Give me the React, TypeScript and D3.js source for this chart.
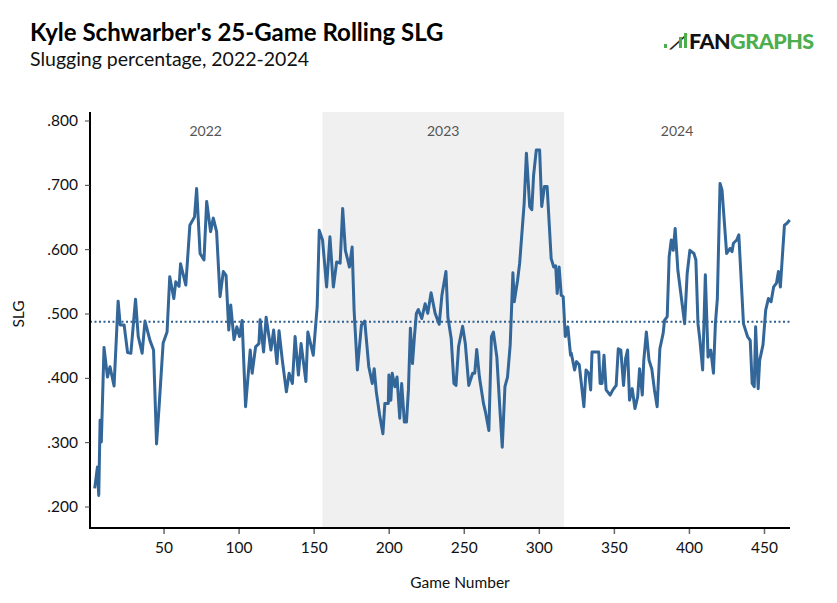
import * as React from "react";
import * as d3 from "d3";

// key points: game number / rolling SLG
const games = [
  3.8, 5.6, 6.5, 7.4, 8.2, 10, 12.3, 14, 16.7, 19.4, 20.8, 23.4, 25.7, 27.9, 31, 32.8, 35.4, 37.3, 40.6, 43,
  45, 46.7, 49.4, 52, 53.8, 56.5, 57.8, 60, 61, 64.5, 67.2, 70.3, 71.7, 74, 76.6, 78.4, 81, 82.8, 85, 87.3,
  89.5, 91.3, 93.1, 94.4, 96.6, 98.5, 100.3, 102, 104.3, 107.4, 108.7, 111, 113.2, 114, 116.3, 118, 121.2, 123, 125.2, 126.6,
  128.8, 131.5, 133.3, 135.5, 137.3, 139.5, 141.3, 144.5, 145.8, 147.6, 149.4, 152, 153.4, 155.6, 158.3, 160.5, 162.8, 165, 167.3, 169,
  170.8, 173.5, 175.3, 176.6, 178.8, 181.5, 183.7, 186.4, 188.7, 190, 191.4, 193.6, 195.8, 197.1, 199.4, 199.8, 201.1, 202, 203.8, 205.2,
  207, 208.3, 210.1, 211.5, 212.8, 214.1, 215.5, 216.8, 218.1, 219.4, 221.7, 223.9, 225.7, 227.9, 230.6, 233.3, 235.1, 237.8, 239.1, 241.3,
  243.1, 244.5, 246.2, 248.9, 250.7, 253, 255.6, 257, 258.3, 260.1, 262.8, 264.1, 266.4, 268.1, 269.4, 271.7, 273.5, 275.3, 277.1, 278.8,
  280.6, 282.4, 283.3, 285.5, 286.9, 289.9, 291.4, 293.6, 295, 296.2, 298, 300.2, 301.6, 303.4, 305.2, 307.9, 309.6, 310.9, 311.9, 313.2,
  314.6, 315.9, 317.3, 319, 320.8, 321.3, 323.5, 324.8, 326.6, 329.7, 331.1, 332.9, 334.2, 335.1, 337.8, 339.6, 340.5, 341.8, 343.1, 344.5,
  347.2, 349, 351.2, 352.6, 354.3, 356.1, 357.5, 358.8, 360.1, 361.9, 363.7, 365.5, 366.8, 368.6, 369.6, 371.3, 373.1, 374.9, 376.7, 378.5,
  380.3, 382.5, 383.4, 385.2, 386.5, 387.9, 389.2, 390.5, 392.3, 394.1, 396.8, 398.5, 400.3, 403, 404.3, 405.7, 407, 408.8, 410.6, 412.4,
  414.2, 416, 417.3, 418.6, 420.4, 421.7, 424.8, 427.1, 428.4, 429.3, 431.5, 432.9, 436, 438.7, 440.5, 441.8, 443.2, 444.1, 445.8, 446.8,
  449, 450.8, 452.6, 454.4, 456.1, 458, 459.3, 460.6, 461.9, 463.3, 465, 466.8,
];
const slg = [
  0.229, 0.262, 0.218, 0.335, 0.301, 0.448, 0.402, 0.418, 0.388, 0.52, 0.483, 0.483, 0.44, 0.439, 0.523, 0.465, 0.439, 0.489, 0.459, 0.444,
  0.298, 0.356, 0.455, 0.472, 0.558, 0.524, 0.55, 0.543, 0.578, 0.545, 0.638, 0.651, 0.695, 0.594, 0.584, 0.675, 0.628, 0.649, 0.628, 0.527,
  0.566, 0.56, 0.475, 0.514, 0.46, 0.48, 0.465, 0.49, 0.356, 0.444, 0.408, 0.449, 0.454, 0.491, 0.441, 0.495, 0.444, 0.475, 0.423, 0.474,
  0.428, 0.379, 0.408, 0.392, 0.465, 0.405, 0.454, 0.395, 0.472, 0.454, 0.436, 0.511, 0.63, 0.615, 0.542, 0.62, 0.542, 0.581, 0.579, 0.664,
  0.599, 0.573, 0.604, 0.506, 0.413, 0.483, 0.489, 0.418, 0.392, 0.415, 0.379, 0.343, 0.314, 0.361, 0.361, 0.405, 0.366, 0.408, 0.387, 0.402,
  0.338, 0.392, 0.332, 0.332, 0.382, 0.478, 0.423, 0.465, 0.501, 0.507, 0.493, 0.516, 0.501, 0.533, 0.501, 0.484, 0.529, 0.566, 0.495, 0.462,
  0.392, 0.389, 0.449, 0.481, 0.454, 0.389, 0.408, 0.408, 0.445, 0.402, 0.361, 0.348, 0.319, 0.465, 0.472, 0.433, 0.361, 0.293, 0.387, 0.402,
  0.452, 0.564, 0.519, 0.552, 0.579, 0.672, 0.75, 0.667, 0.662, 0.716, 0.755, 0.755, 0.667, 0.698, 0.698, 0.586, 0.573, 0.575, 0.532, 0.573,
  0.529, 0.527, 0.465, 0.48, 0.436, 0.439, 0.413, 0.426, 0.421, 0.356, 0.413, 0.408, 0.382, 0.441, 0.441, 0.441, 0.392, 0.392, 0.436, 0.382,
  0.374, 0.382, 0.389, 0.446, 0.444, 0.389, 0.431, 0.444, 0.366, 0.384, 0.353, 0.371, 0.415, 0.374, 0.428, 0.472, 0.428, 0.415, 0.382, 0.356,
  0.446, 0.47, 0.49, 0.496, 0.589, 0.615, 0.599, 0.633, 0.568, 0.535, 0.485, 0.563, 0.599, 0.594, 0.584, 0.485, 0.459, 0.413, 0.561, 0.433,
  0.444, 0.408, 0.485, 0.524, 0.703, 0.693, 0.594, 0.602, 0.597, 0.61, 0.615, 0.623, 0.485, 0.465, 0.459, 0.392, 0.387, 0.48, 0.384, 0.428,
  0.452, 0.506, 0.524, 0.519, 0.542, 0.548, 0.566, 0.542, 0.589, 0.638, 0.641, 0.646,
];
const seasons = [
  { label: "2022", start: 0, end: 155.5 },
  { label: "2023", start: 155.5, end: 316.5 },
  { label: "2024", start: 316.5, end: 467 },
];
const averageSlg = 0.488;
const xTicks = [50, 100, 150, 200, 250, 300, 350, 400, 450];
const yTicks = [0.2, 0.3, 0.4, 0.5, 0.6, 0.7, 0.8];

const W = 837;
const H = 603;
const FONT = "Lato, 'Open Sans', sans-serif";

export default function App() {
  const x = d3.scaleLinear().domain([0, 467]).range([89, 790]);
  const y = d3.scaleLinear().domain([0.2, 0.8]).range([507, 121]);
  const points = games.map((g, i) => [g, slg[i]] as [number, number]);
  const line = d3
    .line<[number, number]>()
    .x((d) => x(d[0]))
    .y((d) => y(d[1]));
  const fmt = (v: number) => d3.format(".3f")(v).replace(/^0/, "");

  return (
    <svg width={W} height={H} style={{ position: "absolute", left: 0, top: 0, background: "#fff" }} fontFamily={FONT}>
      <text x={30} y={41} fontSize={24} fontWeight={700} fill="#000">
        Kyle Schwarber's 25-Game Rolling SLG
      </text>
      <text x={30} y={66} fontSize={19.5} fill="#111">
        Slugging percentage, 2022-2024
      </text>

      {/* logo */}
      <g>
        <rect x={664} y={44} width={3} height={4} fill="#4cae4c" />
        <text x={670} y={49} fontSize={19} fontWeight={900} fill="#222" fontStyle="italic">⟋</text>
        <rect x={679} y={37} width={3} height={11} fill="#4cae4c" />
        <rect x={684} y={33} width={3} height={15} fill="#4cae4c" />
        <text x={689} y={49} fontSize={21.5} fontWeight={900} fill="#111" letterSpacing={-0.5}>
          FAN<tspan fill="#4cae4c">GRAPHS</tspan>
        </text>
      </g>

      {seasons.map((s, i) => (
        <g key={s.label}>
          {i === 1 && (
            <rect x={x(s.start)} y={112} width={x(s.end) - x(s.start)} height={528 - 112} fill="#f0f0f0" />
          )}
          <text x={(x(s.start) + x(s.end)) / 2} y={136} textAnchor="middle" fontSize={14} fill="#555">
            {s.label}
          </text>
        </g>
      ))}

      <line x1={90} x2={790} y1={y(averageSlg)} y2={y(averageSlg)} stroke="#2f5f8f" strokeWidth={2} strokeDasharray="2,2.5" />

      <path d={line(points) ?? ""} fill="none" stroke="#336699" strokeWidth={3} strokeLinejoin="round" />

      {/* axes */}
      <line x1={90} x2={90} y1={112} y2={528} stroke="#000" strokeWidth={2} />
      <line x1={89} x2={790} y1={528} y2={528} stroke="#000" strokeWidth={2} />
      {yTicks.map((t) => (
        <g key={t}>
          <line x1={85} x2={90} y1={y(t)} y2={y(t)} stroke="#444" />
          <text x={78} y={y(t) + 5} textAnchor="end" fontSize={15.5} fill="#111">
            {fmt(t)}
          </text>
        </g>
      ))}
      {xTicks.map((t) => (
        <g key={t}>
          <line x1={x(t)} x2={x(t)} y1={529} y2={534} stroke="#666" strokeWidth={1.5} />
          <text x={x(t)} y={553} textAnchor="middle" fontSize={15.5} fill="#111">
            {t}
          </text>
        </g>
      ))}
      <text x={460} y={588} textAnchor="middle" fontSize={15.5} fill="#111">
        Game Number
      </text>
      <text transform={`translate(24,${y(0.5)}) rotate(-90)`} textAnchor="middle" fontSize={15.5} fill="#111">
        SLG
      </text>
    </svg>
  );
}
